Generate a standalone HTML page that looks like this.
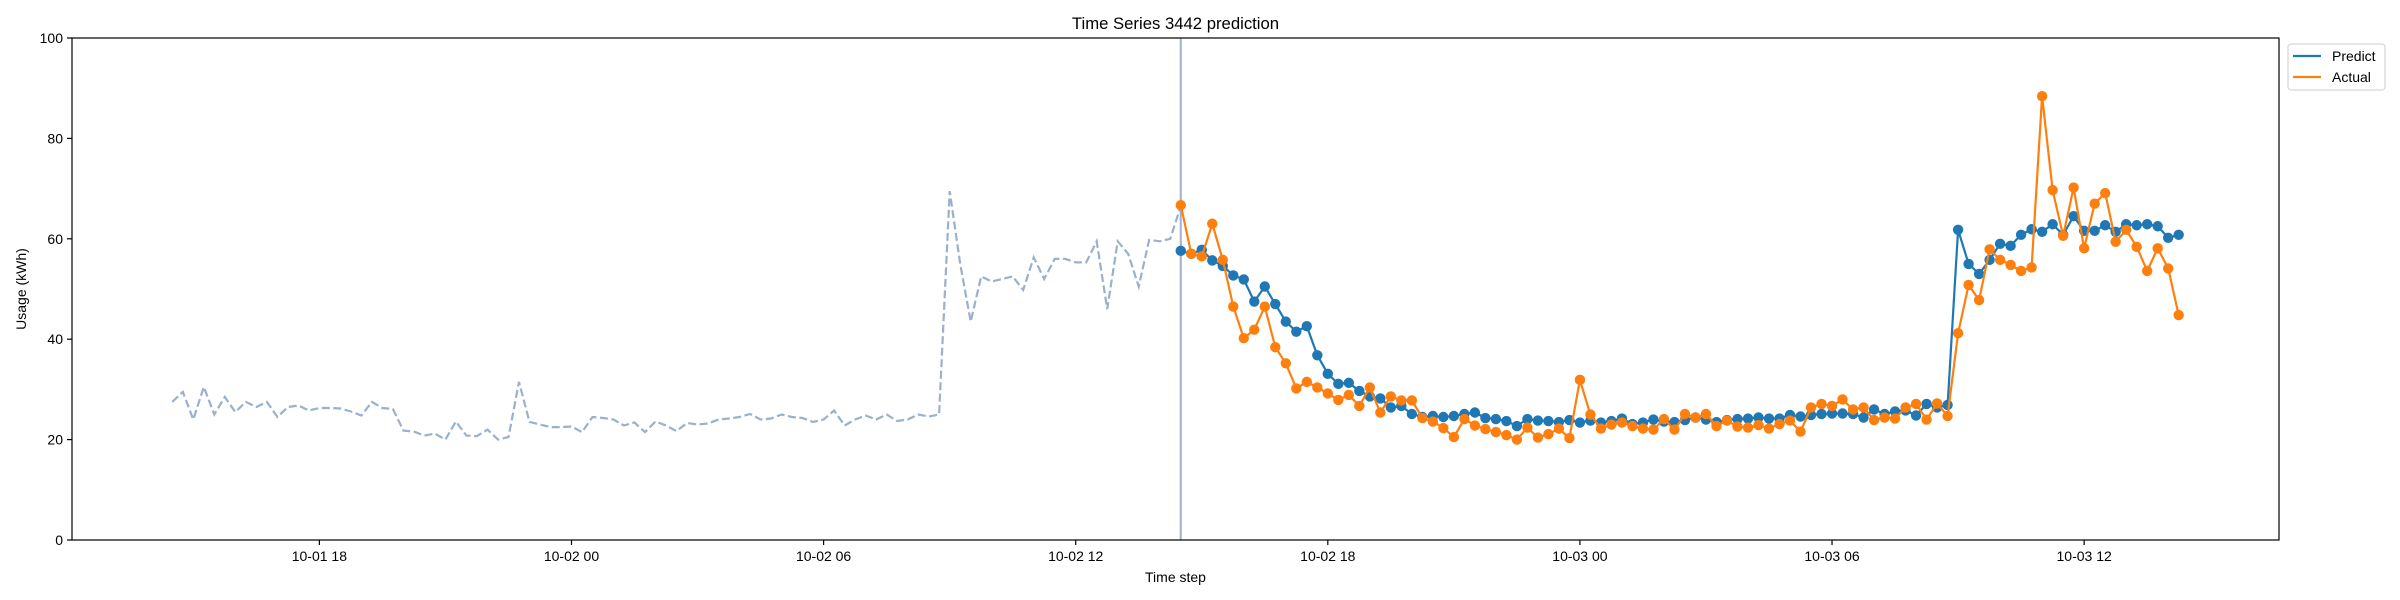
<!DOCTYPE html>
<html><head><meta charset="utf-8"><style>
html,body{margin:0;padding:0;background:#fff;}
svg{display:block;font-family:"Liberation Sans","DejaVu Sans",sans-serif;}
</style></head><body>
<svg id="chart" width="2400" height="600" viewBox="0 0 2400 600" xmlns="http://www.w3.org/2000/svg">
<rect x="0" y="0" width="2400" height="600" fill="#fff"/>
<g id="marks"></g>
<g id="axes"></g>
</svg>
<script>
const historyValues = [27.5,29.5,24,30.5,25,28.5,25.5,27.5,26.5,27.5,
24.5,26.5,26.8,25.8,26.3,26.3,26.2,25.6,24.8,27.5,
26.3,26.1,21.8,21.6,20.8,21.2,20,23.6,20.8,20.7,
22,20,20.5,31.5,23.5,23,22.5,22.5,22.6,21.5,
24.5,24.3,24,22.8,23.4,21.5,23.6,22.8,21.7,23.3,
23,23.2,24,24.2,24.5,25.1,24,24.2,25,24.5,
24.3,23.5,24,25.8,22.8,24,24.8,24,25,23.7,
24,25,24.6,25,69.5,55,43.5,52.5,51.5,52,
52.5,49.8,56.3,52,56,56,55.3,55.3,59.5,46,
59.5,57,50.5,59.8,59.5,60,66.5];
const predictValues = [57.6,57.0,57.8,55.7,54.6,52.7,51.9,47.5,50.5,47.0,
43.5,41.5,42.6,36.8,33.1,31.1,31.3,29.7,28.6,28.2,
26.4,26.7,25.1,24.5,24.7,24.5,24.7,25.1,25.4,24.3,
24.1,23.7,22.7,24.1,23.8,23.7,23.5,23.9,23.4,23.8,
23.4,23.7,24.2,23.1,23.4,24.0,23.6,23.5,23.9,24.4,
24.0,23.5,23.9,24.1,24.2,24.4,24.2,24.2,24.9,24.6,
24.9,25.1,25.2,25.2,25.1,24.4,26.0,25.1,25.6,25.8,
24.8,27.1,26.4,26.9,61.8,55.0,53.0,55.8,59.0,58.6,
60.8,61.9,61.4,62.9,60.8,64.5,61.6,61.6,62.7,61.4,
62.9,62.7,62.9,62.5,60.2,60.8];
const actualValues = [66.7,57.0,56.5,63.0,55.8,46.5,40.2,41.9,46.5,38.4,
35.2,30.2,31.5,30.4,29.2,27.9,28.9,26.7,30.4,25.4,
28.6,27.8,27.8,24.3,23.6,22.3,20.5,24.1,22.8,22.1,
21.5,20.9,20.0,22.4,20.4,21.1,22.2,20.3,31.9,25.0,
22.2,23.0,23.4,22.7,22.2,22.0,24.1,22.0,25.1,24.4,
25.1,22.7,23.8,22.6,22.4,22.9,22.2,23.1,23.8,21.6,
26.4,27.1,26.7,28.0,26.0,26.4,23.9,24.4,24.2,26.4,
27.1,24.0,27.2,24.7,41.2,50.8,47.8,57.9,55.8,54.8,
53.6,54.3,88.4,69.7,60.6,70.2,58.1,67.0,69.1,59.4,
61.8,58.4,53.6,58.1,54.1,44.8];
const yTicks = [0,20,40,60,80,100];
const xTickLabels = ["10-01 18","10-02 00","10-02 06","10-02 12","10-02 18","10-03 00","10-03 06","10-03 12"];
const xTickHours = [18,24,30,36,42,48,54,60]; // hours from 10-01 00:00
const historyStartHour = 14.5; // 10-01 14:30
const forecastStartHour = 38.5; // 10-02 14:30
const stepHours = 0.25;

const L=72, R=2279, T=38, B=540;
const xMin = historyStartHour - (forecastStartHour + 95*stepHours - historyStartHour)*0.05;
const xMax = forecastStartHour + 95*stepHours + (forecastStartHour + 95*stepHours - historyStartHour)*0.05;
function xs(h){return L + (h - xMin)/(xMax - xMin)*(R-L);}
function ys(v){return B - v/100*(B-T);}
const NS="http://www.w3.org/2000/svg";
const marks=document.getElementById('marks'), axes=document.getElementById('axes');
function mk(tag,attrs,parent){const e=document.createElementNS(NS,tag);for(const k in attrs)e.setAttribute(k,attrs[k]);parent.appendChild(e);return e;}

// history
let hp=historyValues.map((v,i)=>xs(historyStartHour+i*stepHours).toFixed(1)+","+ys(v).toFixed(1)).join(" ");
const hl=mk('polyline',{points:hp,fill:'none',stroke:'#9ab0cc','stroke-width':2.2,'stroke-dasharray':'8,3.5'},marks);



// vertical line
const vl=mk('line',{x1:xs(forecastStartHour),x2:xs(forecastStartHour),y1:T,y2:B,stroke:'#a3afd0','stroke-width':2},marks);



function series(vals,color,name){
  const g=mk('g',{},marks);
  
  
  const pts=vals.map((v,i)=>xs(forecastStartHour+i*stepHours).toFixed(1)+","+ys(v).toFixed(1)).join(" ");
  const pl=mk('polyline',{points:pts,fill:'none',stroke:color,'stroke-width':2.2},g);
  
  
  vals.forEach((v,i)=>{
    const c=mk('circle',{cx:xs(forecastStartHour+i*stepHours),cy:ys(v),r:5.2,fill:color},g);
    
    
  });
}
series(predictValues,'#1f77b4','predict');
series(actualValues,'#ff7f0e','actual');

// axes frame
const fr=mk('rect',{x:L,y:T,width:R-L,height:B-T,fill:'none',stroke:'#000','stroke-width':1.2},axes);


yTicks.forEach(t=>{
  const y=ys(t);
  const tl=mk('line',{x1:L-5,x2:L,y1:y,y2:y,stroke:'#000','stroke-width':1.2},axes);
  
  
  const tx=mk('text',{x:L-9,y:y+5,'text-anchor':'end','font-size':14,fill:'#000'},axes);
  tx.textContent=t;
  
  
});
xTickHours.forEach((h,i)=>{
  const x=xs(h);
  const tl=mk('line',{x1:x,x2:x,y1:B,y2:B+5,stroke:'#000','stroke-width':1.2},axes);
  
  
  const tx=mk('text',{x:x,y:B+21,'text-anchor':'middle','font-size':14,fill:'#000'},axes);
  tx.textContent=xTickLabels[i];
  
  
});
const ti=mk('text',{x:(L+R)/2,y:29,'text-anchor':'middle','font-size':16.7,fill:'#000'},axes);
ti.textContent='Time Series 3442 prediction';


const xl=mk('text',{x:(L+R)/2,y:582,'text-anchor':'middle','font-size':14,fill:'#000'},axes);
xl.textContent='Time step';


const yl=mk('text',{x:0,y:0,'text-anchor':'middle','font-size':14,fill:'#000',transform:'translate(26,'+((T+B)/2)+') rotate(-90)'},axes);
yl.textContent='Usage (kWh)';



// legend
const lg=mk('g',{},axes);


mk('rect',{x:2288,y:44,width:97,height:46,rx:3,fill:'#fff',stroke:'#d6d6d6','stroke-width':1.2},lg);
[['Predict','#1f77b4',56],['Actual','#ff7f0e',77]].forEach(([n,c,y])=>{
  const e=mk('g',{},lg);
  
  
  mk('line',{x1:2293,x2:2321,y1:y,y2:y,stroke:c,'stroke-width':2.2},e);
  const t=mk('text',{x:2332,y:y+5,'font-size':14,fill:'#000'},e);
  t.textContent=n;
});
</script>
</body></html>
